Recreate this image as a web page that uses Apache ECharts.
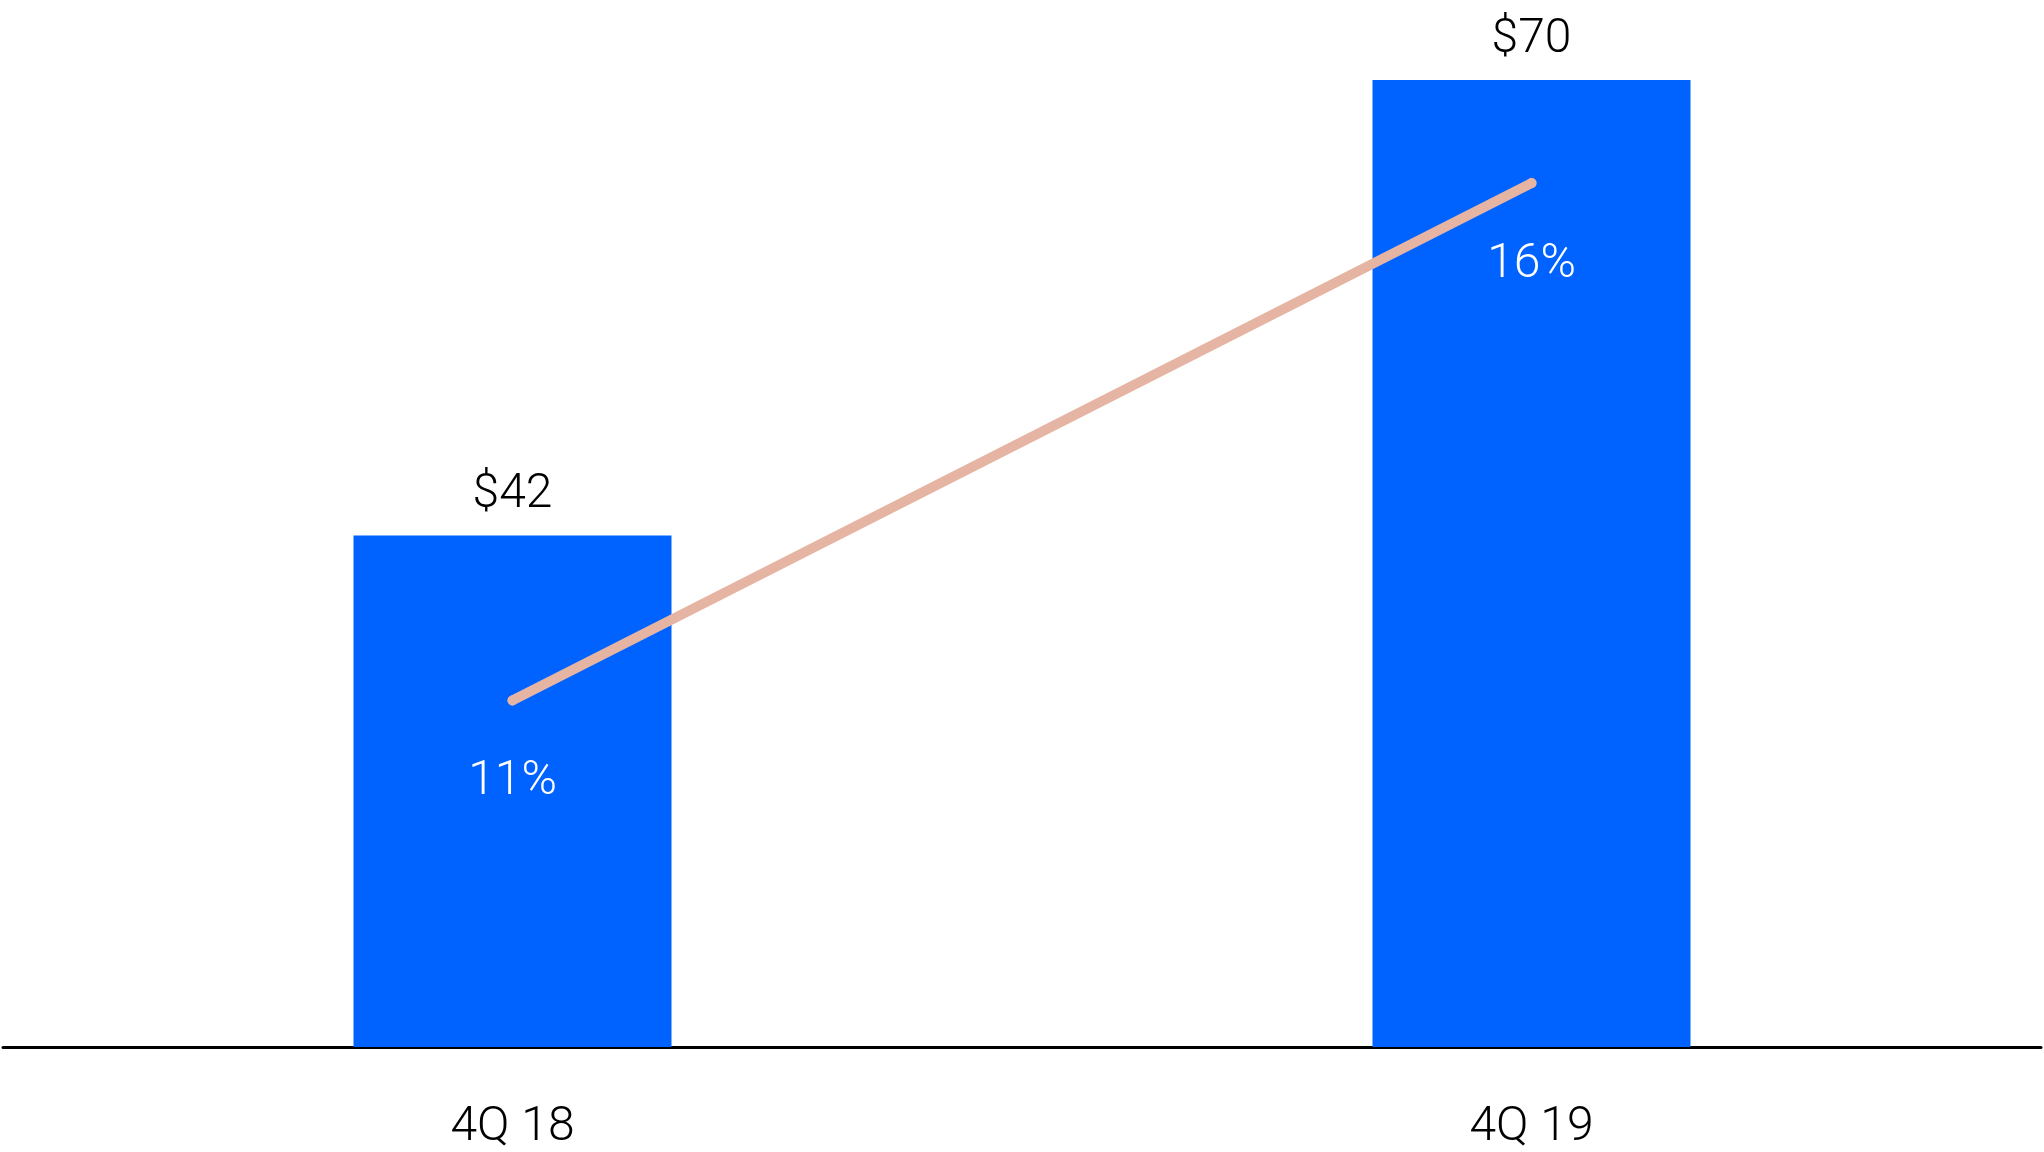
<!DOCTYPE html>
<html>
<head>
<meta charset="utf-8">
<script src="https://cdn.jsdelivr.net/npm/echarts@6/dist/echarts.min.js"></script>
<style>
html,body{margin:0;padding:0;background:#fff;}
#c{width:2044px;height:1152px;}
</style>
</head>
<body>
<div id="c"></div>
<script>
const categories = ['4Q 18', '4Q 19'];
const barValues = [42, 70];
const barLabels = ['$42', '$70'];
const lineValues = [11, 16];
const lineLabels = ['11%', '16%'];

const FONT = 'Roboto';
const chart = echarts.init(document.getElementById('c'));
chart.setOption({
  backgroundColor: '#ffffff',
  animation: false,
  grid: { left: 3, right: 3, top: 0, bottom: 104 },
  xAxis: {
    type: 'category',
    data: categories,
    axisLine: { show: true, lineStyle: { color: '#000', width: 3, cap: 'round' } },
    axisTick: { show: false },
    axisLabel: { color: '#000', fontFamily: FONT, fontWeight: 300, fontSize: 48, margin: 57 }
  },
  yAxis: [
    { type: 'value', min: 10.56, max: 74.91, show: false, splitLine: { show: false } },
    { type: 'value', min: 7.65, max: 17.77, show: false, splitLine: { show: false } }
  ],
  series: [
    {
      type: 'bar',
      data: barValues,
      barWidth: 318,
      itemStyle: { color: '#0062FF' },
      label: {
        show: true, position: 'top', distance: 16,
        color: '#000', fontFamily: FONT, fontWeight: 300, fontSize: 48,
        formatter: p => barLabels[p.dataIndex]
      }
    },
    {
      type: 'line',
      yAxisIndex: 1,
      data: lineValues,
      symbol: 'circle',
      symbolSize: 10,
      showSymbol: true,
      itemStyle: { color: '#E6B4A3' },
      lineStyle: { color: '#E6B4A3', width: 10, cap: 'round' },
      label: {
        show: true, position: 'bottom', distance: 53,
        color: '#fff', fontFamily: FONT, fontWeight: 300, fontSize: 48,
        formatter: p => lineLabels[p.dataIndex]
      },
      z: 5
    }
  ]
});
</script>
</body>
</html>
